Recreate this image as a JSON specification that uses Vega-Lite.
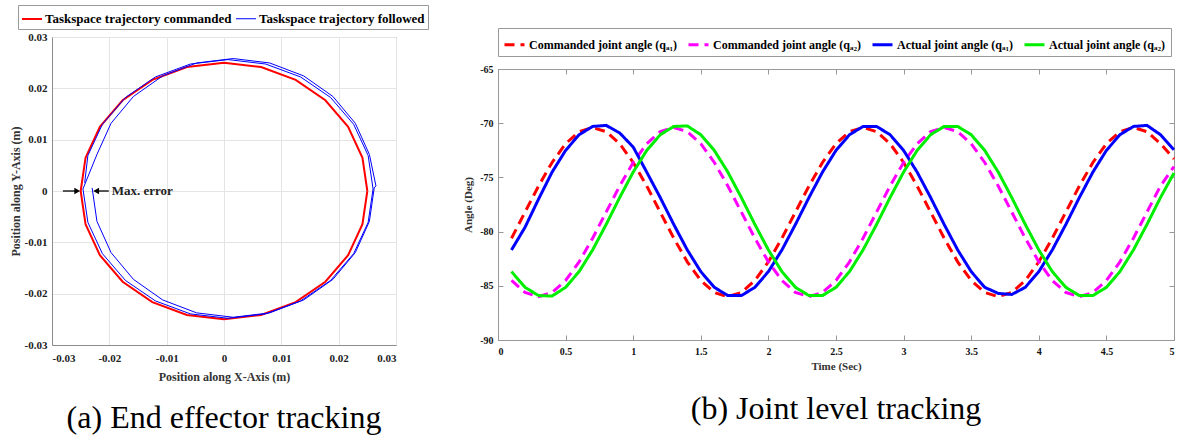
{
  "$schema": "https://vega.github.io/schema/vega-lite/v6.json",
  "background": "white",
  "padding": {"left": 8, "top": 4, "right": 0, "bottom": 0},
  "spacing": 33,
  "resolve": {
    "scale": {"color": "independent", "strokeWidth": "independent", "strokeDash": "independent", "shape": "independent"},
    "legend": {"color": "independent", "strokeWidth": "independent", "strokeDash": "independent", "shape": "independent"}
  },
  "config": {
    "locale": {"number": {"decimal": ".", "thousands": ",", "grouping": [3], "currency": ["$", ""], "minus": "-"}},
    "font": "Liberation Serif",
    "view": {"stroke": "#8c8c8c"},
    "axis": {"labelFont": "Liberation Serif", "labelFontWeight": "bold", "labelColor": "#222", "titleFont": "Liberation Serif", "titleFontWeight": "bold", "titleColor": "#333"}
  },
  "datasets": {
    "traj": [
      {"g": "Taskspace trajectory commanded", "i": 0, "x": 0.025, "y": 0},
      {"g": "Taskspace trajectory commanded", "i": 1, "x": 0.02415, "y": 0.00647},
      {"g": "Taskspace trajectory commanded", "i": 2, "x": 0.02165, "y": 0.0125},
      {"g": "Taskspace trajectory commanded", "i": 3, "x": 0.01768, "y": 0.01768},
      {"g": "Taskspace trajectory commanded", "i": 4, "x": 0.0125, "y": 0.02165},
      {"g": "Taskspace trajectory commanded", "i": 5, "x": 0.00647, "y": 0.02415},
      {"g": "Taskspace trajectory commanded", "i": 6, "x": 0, "y": 0.025},
      {"g": "Taskspace trajectory commanded", "i": 7, "x": -0.00647, "y": 0.02415},
      {"g": "Taskspace trajectory commanded", "i": 8, "x": -0.0125, "y": 0.02165},
      {"g": "Taskspace trajectory commanded", "i": 9, "x": -0.01768, "y": 0.01768},
      {"g": "Taskspace trajectory commanded", "i": 10, "x": -0.02165, "y": 0.0125},
      {"g": "Taskspace trajectory commanded", "i": 11, "x": -0.02415, "y": 0.00647},
      {"g": "Taskspace trajectory commanded", "i": 12, "x": -0.025, "y": 0},
      {"g": "Taskspace trajectory commanded", "i": 13, "x": -0.02415, "y": -0.00647},
      {"g": "Taskspace trajectory commanded", "i": 14, "x": -0.02165, "y": -0.0125},
      {"g": "Taskspace trajectory commanded", "i": 15, "x": -0.01768, "y": -0.01768},
      {"g": "Taskspace trajectory commanded", "i": 16, "x": -0.0125, "y": -0.02165},
      {"g": "Taskspace trajectory commanded", "i": 17, "x": -0.00647, "y": -0.02415},
      {"g": "Taskspace trajectory commanded", "i": 18, "x": 0, "y": -0.025},
      {"g": "Taskspace trajectory commanded", "i": 19, "x": 0.00647, "y": -0.02415},
      {"g": "Taskspace trajectory commanded", "i": 20, "x": 0.0125, "y": -0.02165},
      {"g": "Taskspace trajectory commanded", "i": 21, "x": 0.01768, "y": -0.01768},
      {"g": "Taskspace trajectory commanded", "i": 22, "x": 0.02165, "y": -0.0125},
      {"g": "Taskspace trajectory commanded", "i": 23, "x": 0.02415, "y": -0.00647},
      {"g": "Taskspace trajectory commanded", "i": 24, "x": 0.025, "y": 0},
      {"g": "Taskspace trajectory followed", "i": 0, "x": -0.0243, "y": 0.0016},
      {"g": "Taskspace trajectory followed", "i": 1, "x": -0.02374, "y": 0.00692},
      {"g": "Taskspace trajectory followed", "i": 2, "x": -0.02121, "y": 0.013},
      {"g": "Taskspace trajectory followed", "i": 3, "x": -0.01719, "y": 0.01822},
      {"g": "Taskspace trajectory followed", "i": 4, "x": -0.01195, "y": 0.02222},
      {"g": "Taskspace trajectory followed", "i": 5, "x": -0.00585, "y": 0.02474},
      {"g": "Taskspace trajectory followed", "i": 6, "x": 0.0007, "y": 0.0256},
      {"g": "Taskspace trajectory followed", "i": 7, "x": 0.00725, "y": 0.02474},
      {"g": "Taskspace trajectory followed", "i": 8, "x": 0.01335, "y": 0.02222},
      {"g": "Taskspace trajectory followed", "i": 9, "x": 0.01859, "y": 0.01822},
      {"g": "Taskspace trajectory followed", "i": 10, "x": 0.02261, "y": 0.013},
      {"g": "Taskspace trajectory followed", "i": 11, "x": 0.02514, "y": 0.00692},
      {"g": "Taskspace trajectory followed", "i": 12, "x": 0.026, "y": 0.0004},
      {"g": "Taskspace trajectory followed", "i": 13, "x": 0.02514, "y": -0.00612},
      {"g": "Taskspace trajectory followed", "i": 14, "x": 0.02261, "y": -0.0122},
      {"g": "Taskspace trajectory followed", "i": 15, "x": 0.01859, "y": -0.01742},
      {"g": "Taskspace trajectory followed", "i": 16, "x": 0.01335, "y": -0.02142},
      {"g": "Taskspace trajectory followed", "i": 17, "x": 0.00725, "y": -0.02394},
      {"g": "Taskspace trajectory followed", "i": 18, "x": 0.0007, "y": -0.0248},
      {"g": "Taskspace trajectory followed", "i": 19, "x": -0.00585, "y": -0.02394},
      {"g": "Taskspace trajectory followed", "i": 20, "x": -0.01195, "y": -0.02142},
      {"g": "Taskspace trajectory followed", "i": 21, "x": -0.01719, "y": -0.01742},
      {"g": "Taskspace trajectory followed", "i": 22, "x": -0.02121, "y": -0.0122},
      {"g": "Taskspace trajectory followed", "i": 23, "x": -0.02374, "y": -0.00612},
      {"g": "Taskspace trajectory followed", "i": 24, "x": -0.0246, "y": 0.0004},
      {"g": "Taskspace trajectory followed", "i": 25, "x": -0.02216, "y": 0.00712},
      {"g": "Taskspace trajectory followed", "i": 26, "x": -0.0197, "y": 0.0132},
      {"g": "Taskspace trajectory followed", "i": 27, "x": -0.01579, "y": 0.01842},
      {"g": "Taskspace trajectory followed", "i": 28, "x": -0.0107, "y": 0.02242},
      {"g": "Taskspace trajectory followed", "i": 29, "x": -0.00477, "y": 0.02494},
      {"g": "Taskspace trajectory followed", "i": 30, "x": 0.0016, "y": 0.0258},
      {"g": "Taskspace trajectory followed", "i": 31, "x": 0.00797, "y": 0.02494},
      {"g": "Taskspace trajectory followed", "i": 32, "x": 0.0139, "y": 0.02242},
      {"g": "Taskspace trajectory followed", "i": 33, "x": 0.01899, "y": 0.01842},
      {"g": "Taskspace trajectory followed", "i": 34, "x": 0.0229, "y": 0.0132},
      {"g": "Taskspace trajectory followed", "i": 35, "x": 0.02536, "y": 0.00712},
      {"g": "Taskspace trajectory followed", "i": 36, "x": 0.0265, "y": 0.001},
      {"g": "Taskspace trajectory followed", "i": 37, "x": 0.0262, "y": 0.0006},
      {"g": "Taskspace trajectory followed", "i": 38, "x": 0.02536, "y": -0.00592},
      {"g": "Taskspace trajectory followed", "i": 39, "x": 0.0229, "y": -0.012},
      {"g": "Taskspace trajectory followed", "i": 40, "x": 0.01899, "y": -0.01722},
      {"g": "Taskspace trajectory followed", "i": 41, "x": 0.0139, "y": -0.02122},
      {"g": "Taskspace trajectory followed", "i": 42, "x": 0.00797, "y": -0.02374},
      {"g": "Taskspace trajectory followed", "i": 43, "x": 0.0016, "y": -0.0246},
      {"g": "Taskspace trajectory followed", "i": 44, "x": -0.00477, "y": -0.02374},
      {"g": "Taskspace trajectory followed", "i": 45, "x": -0.0107, "y": -0.02122},
      {"g": "Taskspace trajectory followed", "i": 46, "x": -0.01579, "y": -0.01722},
      {"g": "Taskspace trajectory followed", "i": 47, "x": -0.0197, "y": -0.012},
      {"g": "Taskspace trajectory followed", "i": 48, "x": -0.02216, "y": -0.00592},
      {"g": "Taskspace trajectory followed", "i": 49, "x": -0.023, "y": 0.0006}
    ],
    "arrows": [
      {"x1": -0.0281, "x2": -0.0257, "y": 0, "hx": -0.0256, "d": "r"},
      {"x1": -0.0201, "x2": -0.0222, "y": 0, "hx": -0.0223, "d": "l"}
    ],
    "note": [{"x": -0.0196, "y": 0, "label": "Max. error"}],
    "joint": [
      {"t": 0.1, "c1": -80.61, "c2": -84.51, "a1": -81.69, "a2": -83.69},
      {"t": 0.2, "c1": -78.2, "c2": -85.62, "a1": -79.6, "a2": -85.14},
      {"t": 0.3, "c1": -75.79, "c2": -86.0, "a1": -77.0, "a2": -85.9},
      {"t": 0.4, "c1": -73.62, "c2": -85.62, "a1": -74.51, "a2": -85.95},
      {"t": 0.5, "c1": -71.89, "c2": -84.51, "a1": -72.51, "a2": -85.14},
      {"t": 0.6, "c1": -70.78, "c2": -82.79, "a1": -71.06, "a2": -83.69},
      {"t": 0.7, "c1": -70.4, "c2": -80.61, "a1": -70.3, "a2": -81.69},
      {"t": 0.8, "c1": -70.78, "c2": -78.2, "a1": -70.2, "a2": -79.34},
      {"t": 0.9, "c1": -71.89, "c2": -75.79, "a1": -70.9, "a2": -76.86},
      {"t": 1.0, "c1": -73.62, "c2": -73.62, "a1": -72.2, "a2": -74.51},
      {"t": 1.1, "c1": -75.79, "c2": -71.89, "a1": -74.51, "a2": -72.51},
      {"t": 1.2, "c1": -78.2, "c2": -70.78, "a1": -76.86, "a2": -71.06},
      {"t": 1.3, "c1": -80.61, "c2": -70.4, "a1": -79.34, "a2": -70.3},
      {"t": 1.4, "c1": -82.79, "c2": -70.78, "a1": -81.69, "a2": -70.25},
      {"t": 1.5, "c1": -84.51, "c2": -71.89, "a1": -83.69, "a2": -71.06},
      {"t": 1.6, "c1": -85.62, "c2": -73.62, "a1": -85.14, "a2": -72.51},
      {"t": 1.7, "c1": -86.0, "c2": -75.79, "a1": -85.9, "a2": -74.51},
      {"t": 1.8, "c1": -85.62, "c2": -78.2, "a1": -85.9, "a2": -76.86},
      {"t": 1.9, "c1": -84.51, "c2": -80.61, "a1": -85.14, "a2": -79.34},
      {"t": 2.0, "c1": -82.79, "c2": -82.79, "a1": -83.69, "a2": -81.69},
      {"t": 2.1, "c1": -80.61, "c2": -84.51, "a1": -81.69, "a2": -83.69},
      {"t": 2.2, "c1": -78.2, "c2": -85.62, "a1": -79.34, "a2": -85.14},
      {"t": 2.3, "c1": -75.79, "c2": -86.0, "a1": -76.86, "a2": -85.9},
      {"t": 2.4, "c1": -73.62, "c2": -85.62, "a1": -74.51, "a2": -85.9},
      {"t": 2.5, "c1": -71.89, "c2": -84.51, "a1": -72.51, "a2": -85.14},
      {"t": 2.6, "c1": -70.78, "c2": -82.79, "a1": -71.06, "a2": -83.69},
      {"t": 2.7, "c1": -70.4, "c2": -80.61, "a1": -70.3, "a2": -81.69},
      {"t": 2.8, "c1": -70.78, "c2": -78.2, "a1": -70.3, "a2": -79.34},
      {"t": 2.9, "c1": -71.89, "c2": -75.79, "a1": -71.06, "a2": -76.86},
      {"t": 3.0, "c1": -73.62, "c2": -73.62, "a1": -72.51, "a2": -74.51},
      {"t": 3.1, "c1": -75.79, "c2": -71.89, "a1": -74.51, "a2": -72.51},
      {"t": 3.2, "c1": -78.2, "c2": -70.78, "a1": -76.86, "a2": -71.06},
      {"t": 3.3, "c1": -80.61, "c2": -70.4, "a1": -79.34, "a2": -70.3},
      {"t": 3.4, "c1": -82.79, "c2": -70.78, "a1": -81.69, "a2": -70.3},
      {"t": 3.5, "c1": -84.51, "c2": -71.89, "a1": -83.69, "a2": -71.06},
      {"t": 3.6, "c1": -85.62, "c2": -73.62, "a1": -85.14, "a2": -72.51},
      {"t": 3.7, "c1": -86.0, "c2": -75.79, "a1": -85.7, "a2": -74.51},
      {"t": 3.8, "c1": -85.62, "c2": -78.2, "a1": -85.8, "a2": -76.86},
      {"t": 3.9, "c1": -84.51, "c2": -80.61, "a1": -85.14, "a2": -79.34},
      {"t": 4.0, "c1": -82.79, "c2": -82.79, "a1": -83.69, "a2": -81.69},
      {"t": 4.1, "c1": -80.61, "c2": -84.51, "a1": -81.69, "a2": -83.69},
      {"t": 4.2, "c1": -78.2, "c2": -85.62, "a1": -79.34, "a2": -85.14},
      {"t": 4.3, "c1": -75.79, "c2": -86.0, "a1": -76.86, "a2": -85.9},
      {"t": 4.4, "c1": -73.62, "c2": -85.62, "a1": -74.51, "a2": -85.9},
      {"t": 4.5, "c1": -71.89, "c2": -84.51, "a1": -72.51, "a2": -85.14},
      {"t": 4.6, "c1": -70.78, "c2": -82.79, "a1": -71.06, "a2": -83.69},
      {"t": 4.7, "c1": -70.4, "c2": -80.61, "a1": -70.3, "a2": -81.69},
      {"t": 4.8, "c1": -70.78, "c2": -78.2, "a1": -70.2, "a2": -79.34},
      {"t": 4.9, "c1": -71.89, "c2": -75.79, "a1": -71.06, "a2": -76.86},
      {"t": 5.0, "c1": -73.3, "c2": -74.0, "a1": -72.45, "a2": -74.6}
    ]
  },
  "hconcat": [
    {
      "width": 344,
      "height": 308,
      "title": {"text": "(a) End effector tracking", "orient": "bottom", "anchor": "middle", "font": "Liberation Serif", "fontSize": 32, "fontWeight": "normal", "color": "black", "offset": 21},
      "layer": [
        {
          "data": {"name": "traj"},
          "mark": {"type": "line"},
          "encoding": {
            "x": {"field": "x", "type": "quantitative", "title": "Position along X-Axis (m)", "scale": {"domain": [-0.03, 0.03], "nice": false, "zero": false},
              "axis": {"values": [-0.03, -0.02, -0.01, 0, 0.01, 0.02, 0.03], "format": ".2~f", "grid": true, "gridColor": "#e4e4e4", "ticks": false, "domainColor": "#8c8c8c", "labelFontSize": 11, "labelPadding": 7, "titleFontSize": 12, "titlePadding": 8}},
            "y": {"field": "y", "type": "quantitative", "title": "Position along Y-Axis (m)", "scale": {"domain": [-0.03, 0.03], "nice": false, "zero": false},
              "axis": {"values": [-0.03, -0.02, -0.01, 0, 0.01, 0.02, 0.03], "format": ".2~f", "grid": true, "gridColor": "#e4e4e4", "ticks": false, "domainColor": "#8c8c8c", "labelFontSize": 11, "labelPadding": 5, "titleFontSize": 12, "titlePadding": 2}},
            "order": {"field": "i", "type": "quantitative"},
            "color": {"field": "g", "type": "nominal",
              "scale": {"domain": ["Taskspace trajectory commanded", "Taskspace trajectory followed"], "range": ["#ff0000", "#0000ff"]},
              "legend": {"title": null, "orient": "none", "legendX": -34, "legendY": -32, "direction": "horizontal", "columns": 2, "symbolType": "stroke", "symbolSize": 400, "labelOffset": 2, "columnPadding": 2, "padding": 3, "strokeColor": "#999", "fillColor": "white", "labelFont": "Liberation Serif", "labelFontWeight": "bold", "labelFontSize": 13, "labelColor": "black", "labelLimit": 300}},
            "strokeWidth": {"field": "g", "type": "nominal",
              "scale": {"domain": ["Taskspace trajectory commanded", "Taskspace trajectory followed"], "range": [2, 1]},
              "legend": {"title": null, "orient": "none", "legendX": -34, "legendY": -32, "direction": "horizontal", "columns": 2, "symbolType": "stroke", "symbolSize": 400, "labelOffset": 2, "columnPadding": 2, "padding": 3, "strokeColor": "#999", "fillColor": "white", "labelFont": "Liberation Serif", "labelFontWeight": "bold", "labelFontSize": 13, "labelColor": "black", "labelLimit": 300}}
          }
        },
        {
          "data": {"name": "arrows"},
          "mark": {"type": "rule", "color": "black", "strokeWidth": 1.3},
          "encoding": {
            "x": {"field": "x1", "type": "quantitative", "title": "Position along X-Axis (m)"},
            "x2": {"field": "x2"},
            "y": {"field": "y", "type": "quantitative", "title": "Position along Y-Axis (m)"}
          }
        },
        {
          "data": {"name": "arrows"},
          "mark": {"type": "point", "filled": true, "color": "black", "opacity": 1, "size": 45},
          "encoding": {
            "x": {"field": "hx", "type": "quantitative", "title": "Position along X-Axis (m)"},
            "y": {"field": "y", "type": "quantitative", "title": "Position along Y-Axis (m)"},
            "shape": {"field": "d", "type": "nominal", "scale": {"domain": ["r", "l"], "range": ["triangle-right", "triangle-left"]}, "legend": null}
          }
        },
        {
          "data": {"name": "note"},
          "mark": {"type": "text", "align": "left", "baseline": "middle", "font": "Liberation Serif", "fontWeight": "bold", "fontSize": 13, "color": "#222"},
          "encoding": {
            "x": {"field": "x", "type": "quantitative", "title": "Position along X-Axis (m)"},
            "y": {"field": "y", "type": "quantitative", "title": "Position along Y-Axis (m)"},
            "text": {"field": "label"}
          }
        }
      ]
    },
    {
      "width": 676,
      "height": 303,
      "view": {"stroke": null},
      "title": {"text": "(b) Joint level tracking", "orient": "bottom", "anchor": "middle", "font": "Liberation Serif", "fontSize": 32, "fontWeight": "normal", "color": "black", "offset": 23},
      "data": {"name": "joint"},
      "transform": [{"fold": ["c1", "c2", "a1", "a2"], "as": ["s", "v"]}],
      "layer": [
        {
          "mark": {"type": "line"},
          "encoding": {
            "x": {"field": "t", "type": "quantitative", "title": "Time (Sec)", "scale": {"domain": [0, 5], "nice": false, "zero": false},
              "axis": {"values": [0, 0.5, 1, 1.5, 2, 2.5, 3, 3.5, 4, 4.5, 5], "format": "~g", "grid": false, "tickSize": -5, "tickColor": "#999", "domainColor": "#999", "labelFontSize": 10, "labelPadding": 11, "titleFontSize": 11, "titlePadding": 4, "labelColor": "#111"}},
            "y": {"field": "v", "type": "quantitative", "title": "Angle (Deg)", "scale": {"domain": [-90, -65], "nice": false, "zero": false, "range": [303, 32]},
              "axis": {"values": [-90, -85, -80, -75, -70, -65], "format": "d", "grid": false, "tickSize": -5, "tickColor": "#999", "domainColor": "#999", "labelFontSize": 10, "labelPadding": 10, "titleFontSize": 11, "titlePadding": 6, "labelColor": "#111"}},
            "color": {"field": "s", "type": "nominal",
              "scale": {"domain": ["c1", "c2", "a1", "a2"], "range": ["#ff0000", "#ff00ff", "#0000ff", "#00ee00"]},
              "legend": {"title": null, "orient": "none", "legendX": 0, "legendY": -9, "direction": "horizontal", "columns": 4, "symbolType": "stroke", "symbolSize": 400, "labelOffset": 3, "columnPadding": 4, "padding": 5, "strokeColor": "#999", "fillColor": "white", "labelFont": "Liberation Serif", "labelFontWeight": "bold", "labelFontSize": 12, "labelColor": "black", "labelLimit": 300,
                "labelExpr": "datum.label == 'c1' ? 'Commanded joint angle (qₐ₁)' : datum.label == 'c2' ? 'Commanded joint angle (qₐ₂)' : datum.label == 'a1' ? 'Actual joint angle (qₐ₁)' : 'Actual joint angle (qₐ₂)'"}},
            "strokeDash": {"field": "s", "type": "nominal",
              "scale": {"domain": ["c1", "c2", "a1", "a2"], "range": [[10, 6], [10, 6], [1, 0], [1, 0]]},
              "legend": {"title": null, "orient": "none", "legendX": 0, "legendY": -9, "direction": "horizontal", "columns": 4, "symbolType": "stroke", "symbolSize": 400, "labelOffset": 3, "columnPadding": 4, "padding": 5, "strokeColor": "#999", "fillColor": "white", "labelFont": "Liberation Serif", "labelFontWeight": "bold", "labelFontSize": 12, "labelColor": "black", "labelLimit": 300,
                "labelExpr": "datum.label == 'c1' ? 'Commanded joint angle (qₐ₁)' : datum.label == 'c2' ? 'Commanded joint angle (qₐ₂)' : datum.label == 'a1' ? 'Actual joint angle (qₐ₁)' : 'Actual joint angle (qₐ₂)'"}},
            "strokeWidth": {"field": "s", "type": "nominal",
              "scale": {"domain": ["c1", "c2", "a1", "a2"], "range": [3, 3, 1.4, 1.4]},
              "legend": {"title": null, "orient": "none", "legendX": 0, "legendY": -9, "direction": "horizontal", "columns": 4, "symbolType": "stroke", "symbolSize": 400, "labelOffset": 3, "columnPadding": 4, "padding": 5, "strokeColor": "#999", "fillColor": "white", "labelFont": "Liberation Serif", "labelFontWeight": "bold", "labelFontSize": 12, "labelColor": "black", "labelLimit": 300,
                "labelExpr": "datum.label == 'c1' ? 'Commanded joint angle (qₐ₁)' : datum.label == 'c2' ? 'Commanded joint angle (qₐ₂)' : datum.label == 'a1' ? 'Actual joint angle (qₐ₁)' : 'Actual joint angle (qₐ₂)'"}}
          }
        },
        {
          "mark": {"type": "line", "opacity": 0},
          "encoding": {
            "x": {"field": "t", "type": "quantitative", "title": null,
              "axis": {"orient": "top", "offset": -32, "values": [0, 0.5, 1, 1.5, 2, 2.5, 3, 3.5, 4, 4.5, 5], "labels": false, "grid": false, "domain": true, "domainColor": "#999", "tickSize": -5, "tickColor": "#999"}},
            "y": {"field": "v", "type": "quantitative", "title": null,
              "axis": {"orient": "right", "values": [-90, -85, -80, -75, -70, -65], "labels": false, "grid": false, "domain": true, "domainColor": "#999", "tickSize": -5, "tickColor": "#999"}},
            "detail": {"field": "s", "type": "nominal"}
          }
        }
      ],
      "resolve": {"axis": {"x": "independent", "y": "independent"}}
    }
  ]
}
